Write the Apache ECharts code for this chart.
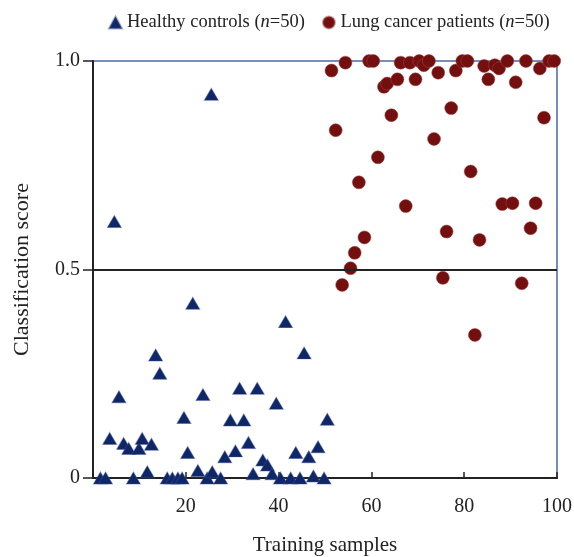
<!DOCTYPE html>
<html>
<head>
<meta charset="utf-8">
<script src="https://cdn.jsdelivr.net/npm/echarts@6/dist/echarts.min.js"></script>
<style>
html,body{margin:0;padding:0;background:#fff;}
#chart{width:574px;height:557px;}
</style>
</head>
<body>
<div id="chart"></div>
<script>
// Healthy controls (samples 1-50)
const healthyX = [1.6,2.7,3.6,4.6,5.6,6.6,7.7,8.7,9.9,10.6,11.7,12.6,13.5,14.4,16.0,17.1,18.3,19.2,19.6,20.4,21.5,22.6,23.7,24.6,25.5,25.7,27.5,28.4,29.6,30.7,31.6,32.5,33.5,34.5,35.4,36.6,37.6,38.6,39.5,40.4,41.5,42.6,43.7,44.6,45.5,46.5,47.5,48.5,49.8,50.5];
const healthyY = [0,0,0.095,0.615,0.195,0.083,0.071,0,0.071,0.095,0.015,0.081,0.295,0.251,0,0,0,0,0.145,0.061,0.419,0.018,0.20,0,0.92,0.015,0,0.051,0.139,0.065,0.215,0.139,0.085,0.01,0.215,0.043,0.031,0.01,0.179,0,0.375,0,0.061,0,0.300,0.051,0.005,0.075,0,0.141];
// Lung cancer patients (samples 51-100)
const cancerX = [51.4,52.3,53.7,54.4,55.5,56.4,57.3,58.5,59.5,60.4,61.4,62.7,63.4,64.3,65.6,66.3,67.4,68.3,69.5,70.3,71.3,72.4,73.5,74.4,75.4,76.2,77.2,78.2,79.6,80.7,81.4,82.3,83.3,84.3,85.2,86.6,87.5,88.2,89.3,90.4,91.1,92.4,93.3,94.3,95.4,96.3,97.2,98.3,99.4,100.3];
const cancerY = [0.977,0.834,0.463,0.996,0.503,0.540,0.709,0.577,1.0,1.0,0.769,0.938,0.946,0.870,0.956,0.996,0.652,0.996,0.956,1.0,0.99,1.0,0.813,0.972,0.480,0.591,0.887,0.977,1.0,1.0,0.735,0.343,0.571,0.988,0.956,0.99,0.982,0.657,1.0,0.659,0.949,0.467,1.0,0.599,0.659,0.982,0.864,1.0,1.0,1.0];
const threshold = 0.5;
const xTicks = [0, 100, 20];   // min, max, interval
const yTicks = [0, 1, 0.5];

const font = 'Liberation Serif, Times New Roman, serif';
const chart = echarts.init(document.getElementById('chart'), null, {renderer:'canvas'});

chart.setOption({
  backgroundColor: '#fff',
  animation: false,
  legend: {
    top: 8,
    left: 103,
    itemGap: 17,
    itemWidth: 13,
    itemHeight: 12,
    textStyle: {
      fontFamily: font, fontSize: 18.5, color: '#222',
      rich: { i: { fontFamily: font, fontSize: 18.5, fontStyle: 'italic', color: '#222' } }
    },
    formatter: function (name) {
      return name === 'healthy' ? 'Healthy controls ({i|n}=50)' : 'Lung cancer patients ({i|n}=50)';
    },
    data: [
      {name: 'healthy', icon: 'triangle'},
      {name: 'cancer', icon: 'circle'}
    ]
  },
  grid: {
    left: 93, right: 17, top: 61, bottom: 79,
    outerBoundsMode: 'none', containLabel: false,
    show: true, borderColor: '#4a68a8', borderWidth: 1.5, backgroundColor: 'transparent'
  },
  xAxis: {
    type: 'value', min: xTicks[0], max: xTicks[1], interval: xTicks[2],
    name: 'Training samples', nameLocation: 'middle', nameGap: 57,
    nameTextStyle: {fontFamily: font, fontSize: 21, color: '#222'},
    axisLine: {show: true, lineStyle: {color: '#222', width: 2}},
    axisTick: {show: true, inside: true, length: 6, lineStyle: {color: '#222', width: 1.5}},
    axisLabel: {
      fontFamily: font, fontSize: 20, color: '#222', margin: 19,
      formatter: v => v === 0 ? '' : String(v)
    },
    splitLine: {show: false}
  },
  yAxis: {
    type: 'value', min: yTicks[0], max: yTicks[1], interval: yTicks[2],
    name: 'Classification score', nameLocation: 'middle', nameGap: 60, nameRotate: 90,
    nameTextStyle: {fontFamily: font, fontSize: 22, color: '#222'},
    axisLine: {show: true, lineStyle: {color: '#222', width: 2}},
    axisTick: {show: true, inside: false, length: 10, lineStyle: {color: '#222', width: 1.5}},
    axisLabel: {
      fontFamily: font, fontSize: 20, color: '#222', margin: 13,
      formatter: v => v === 0 ? '0' : v.toFixed(1)
    },
    splitLine: {show: false}
  },
  series: [
    {
      name: 'threshold', type: 'scatter', data: [], z: 1, silent: true,
      markLine: {
        silent: true, symbol: ['none','none'], label: {show: false},
        lineStyle: {color: '#222', width: 2, type: 'solid'},
        data: [{yAxis: threshold}]
      }
    },
    {
      name: 'healthy', type: 'scatter', symbol: 'triangle', symbolSize: [14, 12], z: 3,
      itemStyle: {color: '#0f2766', opacity: 1, borderColor: 'rgba(60,80,150,0.45)', borderWidth: 1},
      data: healthyX.map((x, i) => [x, healthyY[i]])
    },
    {
      name: 'cancer', type: 'scatter', symbol: 'circle', symbolSize: 13, z: 3,
      itemStyle: {color: '#740f10', opacity: 1, borderColor: 'rgba(160,70,70,0.5)', borderWidth: 1},
      data: cancerX.map((x, i) => [x, cancerY[i]])
    }
  ]
});
</script>
</body>
</html>
